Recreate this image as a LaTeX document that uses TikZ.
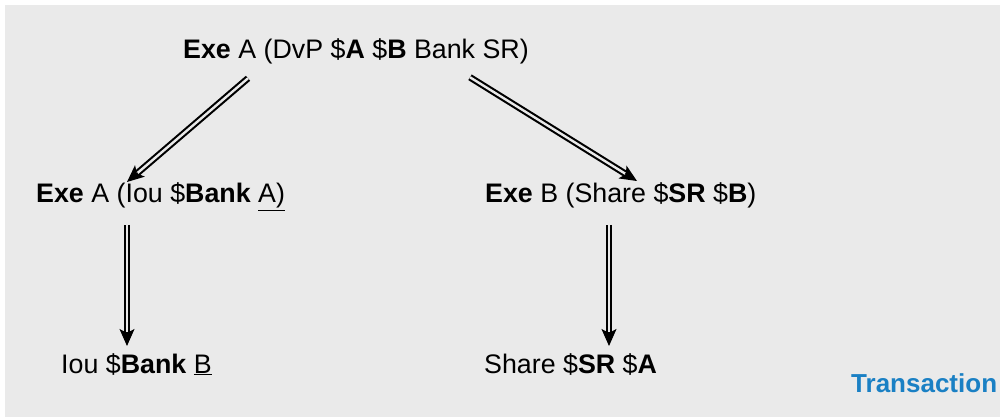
\documentclass[tikz,border=0pt]{standalone}
\usepackage{fontspec}
\setmainfont{Liberation Sans}
\usetikzlibrary{calc,arrows.meta}
\definecolor{bggray}{RGB}{234,234,234}
\definecolor{txblue}{RGB}{26,128,196}
\newcommand{\ul}[1]{\underline{#1}}
\tikzset{
  lbl/.style={anchor=base west,inner sep=0pt,font=\fontsize{26.8}{30}\selectfont,text=black},
  dbl/.style={draw=black,line width=2.1pt,double=bggray,double distance=2.4pt},
  tiphead/.style={draw=black,fill=black,line width=1.2pt,-{Stealth[length=17pt,width=15pt,inset=4pt]}},
  title/.style={anchor=base west,inner sep=0pt,font=\fontsize{26}{30}\selectfont\bfseries,text=txblue}
}
\begin{document}
\begin{tikzpicture}[x=1pt,y=-1pt]
\useasboundingbox (0,0) rectangle (1000,419);
\fill[white] (0,0) rectangle (1000,419);
\fill[bggray] (5,5) rectangle (1000,417);
\node[lbl] (top) at (183,58.3) {\textbf{Exe} A (DvP \$\textbf{A} \$\textbf{B} Bank SR)};
\node[lbl] (ml) at (36,203) {\textbf{Exe} A (Iou \$\textbf{Bank} \ul{A)}};
\node[lbl] (mr) at (485,203) {\textbf{Exe} B (Share \$\textbf{SR} \$\textbf{B})};
\node[lbl] (bl) at (61,373) {Iou \$\textbf{Bank} \ul{B}};
\node[lbl] (br) at (484,373) {Share \$\textbf{SR} \$\textbf{A}};
\node[title] (tr) at (851,392) {Transaction};
\coordinate (s1) at ($(top.base west)+(65,20)$);
\coordinate (e1) at ($(ml.base west)+(91,-21)$);
\coordinate (s2) at ($(top.base west)+(287,19)$);
\coordinate (e2) at ($(mr.base west)+(152,-22)$);
\coordinate (s3) at ($(ml.base west)+(91,22)$);
\coordinate (e3) at ($(bl.base west)+(66,-27)$);
\coordinate (s4) at ($(mr.base west)+(124,22)$);
\coordinate (e4) at ($(br.base west)+(125,-27)$);
\foreach \i in {1,2,3,4}{
  \draw[dbl] (s\i) -- ($(e\i)!11pt!(s\i)$);
  \draw[tiphead] ($(e\i)!14pt!(s\i)$) -- (e\i);
}
\end{tikzpicture}
\end{document}
